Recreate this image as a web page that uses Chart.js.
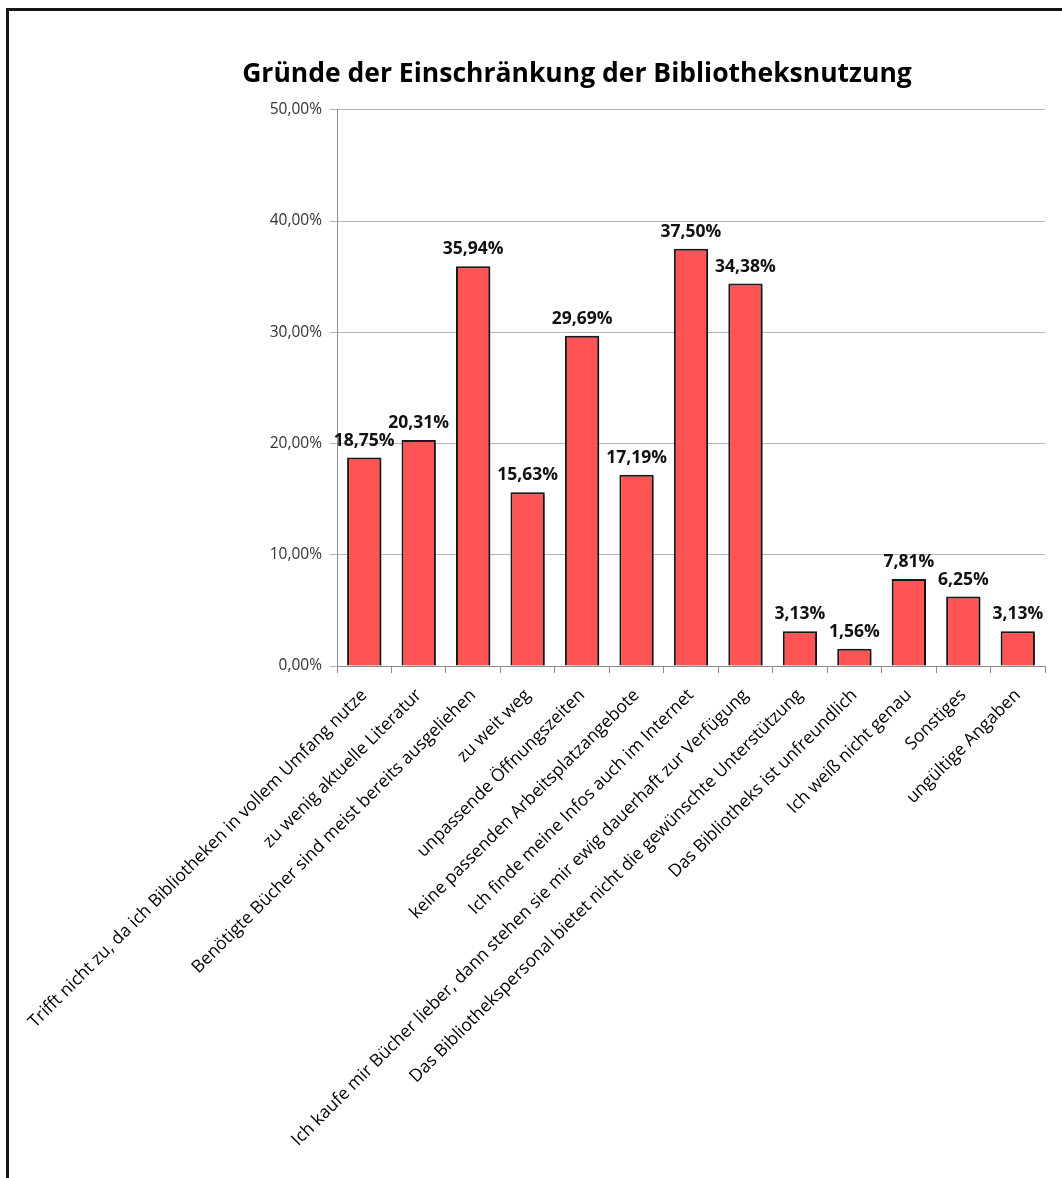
<!DOCTYPE html>
<html>
<head>
<meta charset="utf-8">
<script src="https://cdn.jsdelivr.net/npm/chart.js@4"></script>
<style>
  html, body { margin: 0; padding: 0; background: #fff; }
  #wrap { position: relative; width: 1062px; height: 1178px; overflow: hidden; }
  #frame { position: absolute; left: 6px; top: 8px; right: -10px; bottom: -10px;
           border-top: 3px solid #151515; border-left: 3px solid #151515; }
  canvas { position: absolute; left: 0; top: 0; }
</style>
</head>
<body>
<div id="wrap">
  <div id="frame"></div>
  <canvas id="chart" width="1062" height="1178"></canvas>
</div>
<script>
const categories = [
  'Trifft nicht zu, da ich Bibliotheken in vollem Umfang nutze',
  'zu wenig aktuelle Literatur',
  'Benötigte Bücher sind meist bereits ausgeliehen',
  'zu weit weg',
  'unpassende Öffnungszeiten',
  'keine passenden Arbeitsplatzangebote',
  'Ich finde meine Infos auch im Internet',
  'Ich kaufe mir Bücher lieber, dann stehen sie mir ewig dauerhaft zur Verfügung',
  'Das Bibliothekspersonal bietet nicht die gewünschte Unterstützung',
  'Das Bibliotheks ist unfreundlich',
  'Ich weiß nicht genau',
  'Sonstiges',
  'ungültige Angaben'
];
const shares = [18.75, 20.31, 35.94, 15.63, 29.69, 17.19, 37.50, 34.38, 3.13, 1.56, 7.81, 6.25, 3.13];
const yTicks = [0, 10, 20, 30, 40, 50];

const fmt = v => v.toFixed(2).replace('.', ',') + '%';

// bar shadow
const shadowPlugin = {
  id: 'shadow',
  beforeDatasetsDraw(chart) {
    const ctx = chart.ctx;
    ctx.save();
    ctx.shadowColor = 'rgba(0,0,0,0.35)';
    ctx.shadowBlur = 4;
    ctx.shadowOffsetX = 3;
    ctx.shadowOffsetY = 2;
  },
  afterDatasetsDraw(chart) {
    chart.ctx.restore();
  }
};

// value labels above bars
const valueLabels = {
  id: 'valueLabels',
  afterDatasetsDraw(chart) {
    const ctx = chart.ctx;
    const meta = chart.getDatasetMeta(0);
    ctx.save();
    ctx.font = 'bold 17.5px "Open Sans"';
    ctx.fillStyle = '#111';
    ctx.textAlign = 'center';
    ctx.textBaseline = 'bottom';
    meta.data.forEach((bar, i) => {
      ctx.fillText(fmt(shares[i]), bar.x, bar.y - 8);
    });
    ctx.restore();
  }
};

new Chart(document.getElementById('chart'), {
  type: 'bar',
  data: {
    labels: categories,
    datasets: [{
      data: shares,
      backgroundColor: 'rgb(255, 84, 84)',
      borderColor: '#1a1a1a',
      borderWidth: 2,
      barPercentage: 0.63,
      categoryPercentage: 1
    }]
  },
  options: {
    responsive: false,
    animation: false,
    layout: { padding: { left: 109, right: 17, top: 59, bottom: 0 } },
    plugins: {
      legend: { display: false },
      tooltip: { enabled: false },
      title: {
        display: true,
        text: 'Gründe der Einschränkung der Bibliotheksnutzung',
        font: { family: 'Open Sans', size: 26.5, weight: 'bold' },
        color: '#000',
        padding: { top: 0, bottom: 19 }
      }
    },
    scales: {
      y: {
        min: 0,
        max: 50,
        afterBuildTicks(scale) { scale.ticks = yTicks.map(v => ({ value: v })); },
        afterFit(scale) { scale.width = 228; },
        ticks: {
          callback: v => fmt(v),
          font: { family: 'Open Sans', size: 15.5 },
          color: '#333',
          padding: 8
        },
        grid: { color: '#b5b5b5', tickLength: 7, lineWidth: 1 },
        border: { color: '#8c8c8c' }
      },
      x: {
        afterFit(scale) { scale.height = 512; },
        ticks: {
          autoSkip: false,
          minRotation: 45,
          maxRotation: 45,
          font: { family: 'Open Sans', size: 17.5 },
          color: '#000',
          padding: 12
        },
        grid: { drawOnChartArea: false, color: '#8c8c8c', tickLength: 7 },
        border: { color: '#8c8c8c' }
      }
    }
  },
  plugins: [shadowPlugin, valueLabels]
});
</script>
</body>
</html>
